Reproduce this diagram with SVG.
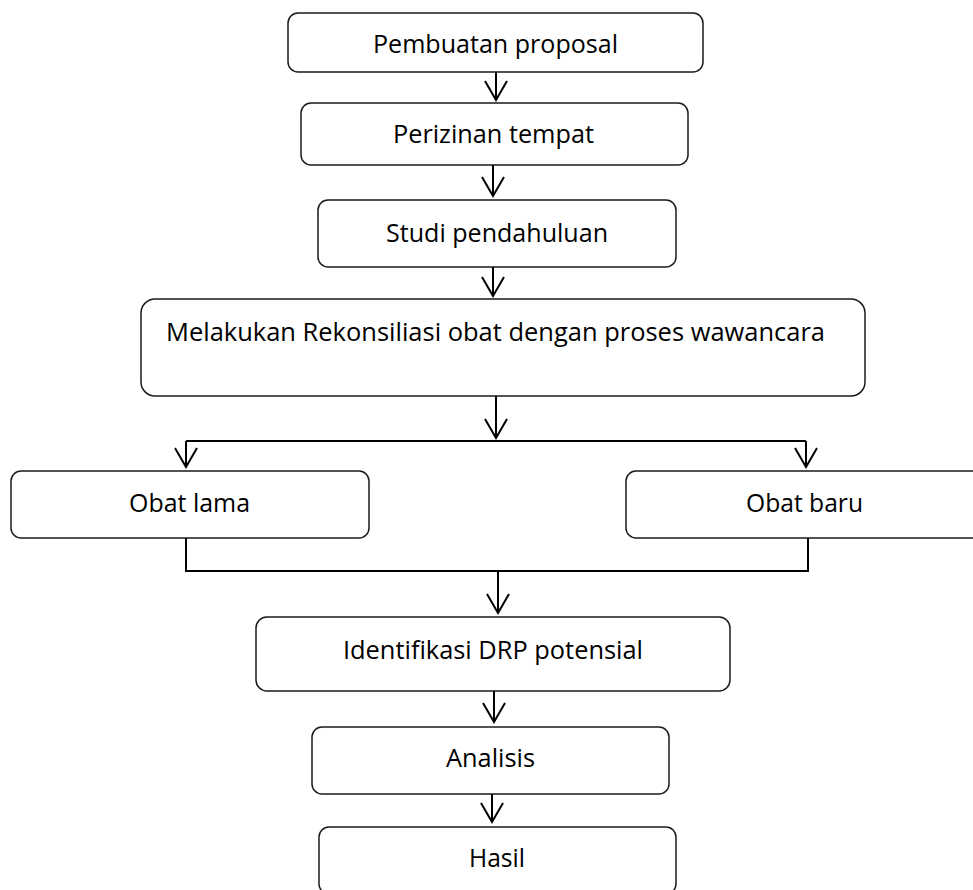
<svg xmlns="http://www.w3.org/2000/svg" width="973" height="890" viewBox="0 0 973 890">
<defs>
<marker id="v" markerUnits="userSpaceOnUse" markerWidth="30" markerHeight="30" viewBox="-25 -15 30 30" refX="0" refY="0" orient="auto" overflow="visible">
<path d="M-19,-11 L0,0 L-19,11" fill="none" stroke="#000" stroke-width="2"/>
</marker>
</defs>
<style>
.box{fill:#fff;stroke:#1a1a1a;stroke-width:1.5}
.t{font-family:"Open Sans","Liberation Sans",sans-serif;font-size:26px;fill:#000}
.c{fill:none;stroke:#000;stroke-width:2}
</style>
<rect width="973" height="890" fill="#fff"/>
<g id="n1"><rect class="box" x="288" y="13" width="415" height="59" rx="10"/><text class="t" x="373" y="53" textLength="245" lengthAdjust="spacingAndGlyphs">Pembuatan proposal</text></g>
<g id="n2"><rect class="box" x="301" y="103" width="387" height="62" rx="10"/><text class="t" x="393" y="143" textLength="201" lengthAdjust="spacingAndGlyphs">Perizinan tempat</text></g>
<g id="n3"><rect class="box" x="318" y="200" width="358" height="67" rx="10"/><text class="t" x="386" y="242" textLength="222" lengthAdjust="spacingAndGlyphs">Studi pendahuluan</text></g>
<g id="n4"><rect class="box" x="141" y="299" width="724" height="97" rx="14"/><text class="t" x="166" y="341" textLength="659" lengthAdjust="spacingAndGlyphs">Melakukan Rekonsiliasi obat dengan proses wawancara</text></g>
<g id="n5"><rect class="box" x="11" y="471" width="358" height="67" rx="10"/><text class="t" x="129" y="512" textLength="121" lengthAdjust="spacingAndGlyphs">Obat lama</text></g>
<g id="n6"><rect class="box" x="626" y="471" width="365" height="67" rx="10"/><text class="t" x="746" y="512" textLength="117" lengthAdjust="spacingAndGlyphs">Obat baru</text></g>
<g id="n7"><rect class="box" x="256" y="617" width="474" height="74" rx="11"/><text class="t" x="343" y="659" textLength="300" lengthAdjust="spacingAndGlyphs">Identifikasi DRP potensial</text></g>
<g id="n8"><rect class="box" x="312" y="727" width="357" height="67" rx="10"/><text class="t" x="446" y="767" textLength="89" lengthAdjust="spacingAndGlyphs">Analisis</text></g>
<g id="n9"><rect class="box" x="319" y="827" width="357" height="67" rx="10"/><text class="t" x="469" y="867" textLength="56" lengthAdjust="spacingAndGlyphs">Hasil</text></g>
<g id="connectors">
<line class="c" x1="496" y1="72" x2="496" y2="100" marker-end="url(#v)"/>
<line class="c" x1="493" y1="165" x2="493" y2="196" marker-end="url(#v)"/>
<line class="c" x1="493" y1="267" x2="493" y2="296" marker-end="url(#v)"/>
<line class="c" x1="496" y1="396" x2="496" y2="438" marker-end="url(#v)"/>
<path class="c" d="M186,441 H806"/>
<line class="c" x1="186" y1="441" x2="186" y2="467" marker-end="url(#v)"/>
<line class="c" x1="806" y1="441" x2="806" y2="467" marker-end="url(#v)"/>
<path class="c" d="M186,538 V571 H808 V538"/>
<line class="c" x1="498" y1="571" x2="498" y2="613" marker-end="url(#v)"/>
<line class="c" x1="494" y1="691" x2="494" y2="722" marker-end="url(#v)"/>
<line class="c" x1="492" y1="794" x2="492" y2="822" marker-end="url(#v)"/>
</g>
</svg>
